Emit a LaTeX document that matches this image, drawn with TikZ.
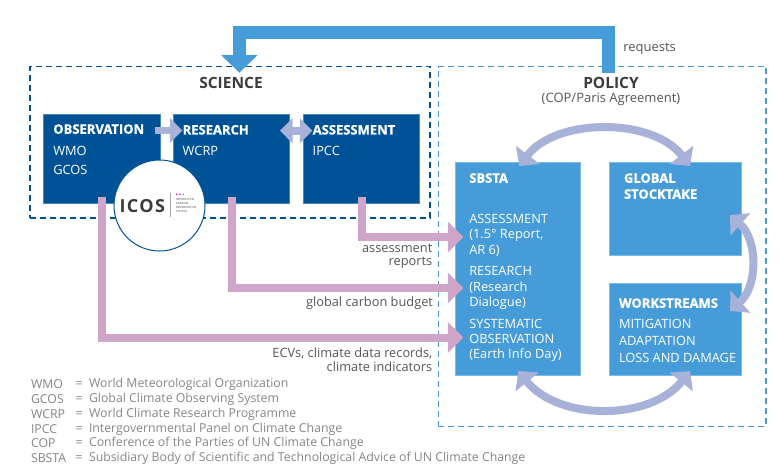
\documentclass[tikz,border=0pt]{standalone}
\usepackage{fontspec}
\setmainfont{Open Sans}
\usetikzlibrary{arrows.meta,calc}
\definecolor{navy}{HTML}{005297}
\definecolor{sky}{HTML}{459CD8}
\definecolor{pinkish}{HTML}{CFA6C9}
\definecolor{lav}{HTML}{A8B1D7}
\definecolor{ink}{HTML}{3C3C3C}
\definecolor{soft}{HTML}{555555}
\definecolor{legend}{HTML}{858585}
\tikzset{
  x=1pt,y=-1pt,
  txt/.style={inner sep=0pt,outer sep=0pt,anchor=west,yshift=-.8pt},
  hd/.style={txt,text=white,font=\fontsize{13}{13}\selectfont\bfseries\addfontfeatures{FakeBold=1}},
  bd/.style={txt,text=white,font=\fontsize{12.8}{12.8}\selectfont},
  lbl/.style={txt,anchor=east,text=soft,font=\fontsize{12.8}{12.8}\selectfont},
  lg/.style={txt,text=legend,font=\fontsize{12.3}{12.3}\selectfont},
  darkbox/.style={fill=navy,draw=navy!70!white,line width=.5pt},
  lightbox/.style={fill=sky,draw=sky!70!white,line width=.5pt},
  scidash/.style={draw=navy,line width=1.2pt,dash pattern=on 6pt off 4pt},
  poldash/.style={draw=sky,line width=1.2pt,dash pattern=on 6pt off 4pt},
  pinkarrow/.style={draw=pinkish,line width=8pt,-{Triangle[length=15.5pt,width=30pt,color=pinkish]}},
  lavstraight/.style={draw=lav,line width=7.6pt,-{Triangle[length=12.5pt,width=24.5pt,color=lav]}},
  lavdouble/.style={draw=lav,line width=7.6pt,{Triangle[length=12.5pt,width=24.5pt,color=lav]}-{Triangle[length=12.5pt,width=24.5pt,color=lav]}},
  lavcurve/.style={draw=lav,line width=8pt,{Triangle[length=14pt,width=29pt,color=lav]}-{Triangle[length=14pt,width=29pt,color=lav]}},
  bluearrow/.style={draw=sky,line width=12.7pt,-{Triangle[length=17.7pt,width=35.6pt,color=sky]}},
}
\begin{document}
\begin{tikzpicture}
\useasboundingbox (0,0) rectangle (779,475);
\node[scidash,inner sep=0pt,minimum width=400pt,minimum height=151.5pt] (sci) at (230,142.3) {};
\node[poldash,inner sep=0pt,minimum width=327.7pt,minimum height=360pt] (pol) at (602.2,246.7) {};
% boxes
\node[darkbox,inner sep=0pt,minimum width=116.5pt,minimum height=89pt] (obs) at (101.75,158.5) {};
\node[darkbox,inner sep=0pt,minimum width=116.5pt,minimum height=89pt] (res) at (231.25,158.5) {};
\node[darkbox,inner sep=0pt,minimum width=116.5pt,minimum height=89pt] (ass) at (361.25,158.5) {};
\node[lightbox,inner sep=0pt,minimum width=125.4pt,minimum height=213pt] (sbsta) at (518,269.2) {};
\node[lightbox,inner sep=0pt,minimum width=132.4pt,minimum height=92.6pt] (gst) at (675.5,209) {};
\node[lightbox,inner sep=0pt,minimum width=132.4pt,minimum height=92.4pt] (wrk) at (675.5,329.5) {};
% requests arrow
\coordinate (reqA) at (608.6,73.3);
\coordinate (reqB) at (608.6,32.35);
\coordinate (reqC) at (239.4,32.35);
\coordinate (reqD) at (239.4,72.7);
\draw[bluearrow] (reqA) -- (reqB) -- (reqC) -- (reqD);
% pink arrows
\coordinate (p1a) at (102,197.3); \coordinate (p1b) at (102,337.5); \coordinate (p1c) at (463.3,337.5);
\coordinate (p2a) at (232,197.3); \coordinate (p2b) at (232,288); \coordinate (p2c) at (463.3,288);
\coordinate (p3a) at (362.2,197.3); \coordinate (p3b) at (362.2,237); \coordinate (p3c) at (463.3,237);
\draw[pinkarrow] (p1a) -- (p1b) -- (p1c);
\draw[pinkarrow] (p2a) -- (p2b) -- (p2c);
\draw[pinkarrow] (p3a) -- (p3b) -- (p3c);
% lavender arrows
\coordinate (l1a) at (155,130.5); \coordinate (l1b) at (182.3,130.5);
\coordinate (l2a) at (280,130.7); \coordinate (l2b) at (312.3,130.7);
\draw[lavstraight] (l1a) -- (l1b);
\draw[lavdouble] (l2a) -- (l2b);
\coordinate (c1a) at (519.3,166); \coordinate (c1b) at (690,166);
\coordinate (c2a) at (518.3,371); \coordinate (c2b) at (690,371);
\coordinate (c3a) at (730,215); \coordinate (c3b) at (730,311);
\draw[lavcurve] (c1a) .. controls (556.4,117.5) and (652.6,117.5) .. (c1b);
\draw[lavcurve] (c2a) .. controls (558.7,421) and (650,421) .. (c2b);
\draw[lavcurve] (c3a) .. controls (758,240) and (758,286) .. (c3b);
% ICOS circle
\node[circle,fill=white,draw=navy,line width=1pt,inner sep=0pt,minimum size=91pt] (icos) at (159.5,205.5) {};
\node[txt,text=ink,font=\fontsize{18}{18}\selectfont\bfseries\addfontfeatures{LetterSpace=8}] (icosT) at (119.5,205) {ICOS};
\coordinate (sepA) at (170.7,193); \coordinate (sepB) at (170.7,217);
\draw[black!35,line width=.5pt] (sepA) -- (sepB);
\fill[magenta!80!purple] (176.7,194.3) circle (.9pt);
\fill[magenta!80!purple] (180,194.3) circle (.9pt);
\fill[sky] (183.3,194.3) circle (.9pt);
\node[txt,text=ink,font=\fontsize{2.8}{4.1}\selectfont\addfontfeatures{LetterSpace=6},align=left,anchor=north west] (icosS) at (175.8,197.6) {INTEGRATED\\CARBON\\OBSERVATION\\SYSTEM};
% titles
\node[txt,anchor=center,text=ink,font=\fontsize{15.5}{15.5}\selectfont\bfseries] (sciT) at (231,81.7) {SCIENCE};
\node[txt,anchor=center,text=ink,font=\fontsize{15.5}{15.5}\selectfont\bfseries] (polT) at (611,81.7) {POLICY};
\node[txt,anchor=center,text=soft,font=\fontsize{13}{13}\selectfont] (polS) at (611,98.3) {(COP/Paris Agreement)};
\node[txt,text=soft,font=\fontsize{13}{13}\selectfont] (reqT) at (623.3,48.3) {requests};
% dark box text
\node[hd] (t1) at (53.3,128.3) {OBSERVATION};
\node[bd] (t2) at (53.3,149.7) {WMO};
\node[bd] (t3) at (53.3,169.3) {GCOS};
\node[hd] (t4) at (182.7,129) {RESEARCH};
\node[bd] (t5) at (182.7,150) {WCRP};
\node[hd] (t6) at (312.7,129) {ASSESSMENT};
\node[bd] (t7) at (312.7,150) {IPCC};
% SBSTA
\node[hd] (s0) at (469.3,177.3) {SBSTA};
\node[bd] (s1) at (469.3,218.3) {ASSESSMENT};
\node[bd] (s2) at (469.3,234.3) {(1.5° Report,};
\node[bd] (s3) at (469.3,250) {AR 6)};
\node[bd] (s4) at (469.3,270.3) {RESEARCH};
\node[bd] (s5) at (469.3,286.7) {(Research};
\node[bd] (s6) at (469.3,302.7) {Dialogue)};
\node[bd] (s7) at (469.3,322.7) {SYSTEMATIC};
\node[bd] (s8) at (469.3,338.3) {OBSERVATION};
\node[bd] (s9) at (469.3,354.3) {(Earth Info Day)};
\node[hd] (g1) at (624,177.3) {GLOBAL};
\node[hd] (g2) at (624,193.3) {STOCKTAKE};
\node[hd] (w0) at (619,302.3) {WORKSTREAMS};
\node[bd] (w1) at (619,323.3) {MITIGATION};
\node[bd] (w2) at (619,340.3) {ADAPTATION};
\node[bd] (w3) at (619,357.3) {LOSS AND DAMAGE};
% flow labels
\node[lbl] (a1) at (432.3,247.3) {assessment};
\node[lbl] (a2) at (432.3,261.7) {reports};
\node[lbl] (b1) at (433,302.7) {global carbon budget};
\node[lbl] (e1) at (432.3,352.7) {ECVs, climate data records,};
\node[lbl] (e2) at (432.3,365.7) {climate indicators};
% legend
\foreach \k/\y/\a/\b in {1/383.3/WMO/World Meteorological Organization,
  2/398.3/GCOS/Global Climate Observing System,
  3/413.3/WCRP/World Climate Research Programme,
  4/428.3/IPCC/Intergovernmental Panel on Climate Change,
  5/442.3/COP/Conference of the Parties of UN Climate Change,
  6/457.3/SBSTA/Subsidiary Body of Scientific and Technological Advice of UN Climate Change}{
  \node[lg] (la\k) at (31,\y) {\a};
  \node[lg] (le\k) at (75.5,\y) {=};
  \node[lg] (lt\k) at (89,\y) {\b};
}
\end{tikzpicture}
\end{document}
